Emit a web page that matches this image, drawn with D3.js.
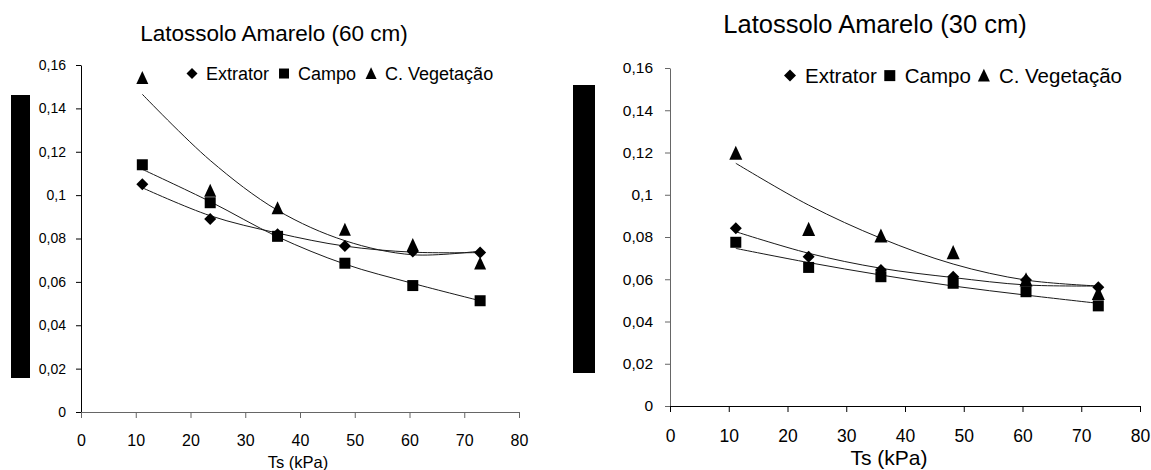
<!DOCTYPE html>
<html>
<head>
<meta charset="utf-8">
<script src="https://cdn.jsdelivr.net/npm/d3@7"></script>
<style>
  body { margin: 0; background: #fff; }
  svg { display: block; font-family: "Liberation Sans", Arial, sans-serif; }
</style>
</head>
<body>
<svg id="chart" width="1151" height="470"></svg>
<script>
// Ts (kPa) at which the samples were taken
var ts = [11.2, 23.6, 35.9, 48.2, 60.6, 72.9];

// Latossolo Amarelo (60 cm)
var ext60 = [0.105, 0.089, 0.082, 0.0765, 0.074, 0.0735];
var campo60 = [0.114, 0.0965, 0.081, 0.0686, 0.0583, 0.0513];
var veg60 = [0.154, 0.102, 0.094, 0.084, 0.077, 0.0685];
// trend lines at the same Ts
var trendExt60 = [0.1034, 0.0905, 0.0825, 0.0765, 0.0737, 0.0735];
var trendCampo60 = [0.1119, 0.097, 0.0808, 0.0682, 0.0593, 0.0513];
var trendVeg60 = [0.1465, 0.116, 0.093, 0.079, 0.0725, 0.0742];

// Latossolo Amarelo (30 cm)
var ext30 = [0.0841, 0.0707, 0.0644, 0.0612, 0.0596, 0.0562];
var campo30 = [0.0775, 0.0656, 0.0612, 0.0581, 0.0541, 0.0474];
var veg30 = [0.1196, 0.0836, 0.0805, 0.0726, 0.0597, 0.0533];
var trendExt30 = [0.0825, 0.0723, 0.0652, 0.0608, 0.0573, 0.0568];
var trendCampo30 = [0.0746, 0.0679, 0.062, 0.0568, 0.0525, 0.0486];
var trendVeg30 = [0.1149, 0.0951, 0.0794, 0.0672, 0.0596, 0.0568];

var seriesNames = ["Extrator", "Campo", "C. Vegetação"];
var seriesShapes = ["diamond", "square", "triangle"];
var xTicks = [0, 10, 20, 30, 40, 50, 60, 70, 80];
var yTicks = [0, 0.02, 0.04, 0.06, 0.08, 0.1, 0.12, 0.14, 0.16];
var yTickLabels = ["0", "0,02", "0,04", "0,06", "0,08", "0,1", "0,12", "0,14", "0,16"];

var svg = d3.select("#chart");
svg.append("rect").attr("width", 1151).attr("height", 470).attr("fill", "#fff");

function shape(type, s) {
  var h = s / 2;
  if (type == "diamond") return "M0," + (-h) + "L" + h + ",0L0," + h + "L" + (-h) + ",0Z";
  if (type == "square") return "M" + (-h) + "," + (-h) + "h" + s + "v" + s + "h" + (-s) + "Z";
  return "M0," + (-s * 0.58) + "L" + (s * 0.5) + "," + (s * 0.5) + "L" + (-s * 0.5) + "," + (s * 0.5) + "Z";
}

function panel(p) {
  var x = d3.scaleLinear().domain([0, 80]).range([p.left, p.right]);
  var y = d3.scaleLinear().domain([0, 0.16]).range([p.bottom, p.top]);
  var g = svg.append("g");

  // y-axis title box (rendered black in the original)
  g.append("rect")
    .attr("x", p.barX).attr("y", p.barTop)
    .attr("width", p.barW).attr("height", p.barBottom - p.barTop)
    .attr("fill", "#000");

  var yAxis = d3.axisLeft(y)
    .tickValues(yTicks)
    .tickFormat(function (d, i) { return yTickLabels[i]; })
    .tickSizeInner(5).tickSizeOuter(0).tickPadding(p.yPad);
  var gy = g.append("g").attr("transform", "translate(" + p.left + ",0)").call(yAxis);
  gy.selectAll("path,line").attr("stroke", p.yColor);
  gy.selectAll("text").attr("font-size", p.yFont).attr("fill", "#000")
    .attr("font-family", "'Liberation Sans', Arial, sans-serif");

  var xAxis = d3.axisBottom(x)
    .tickValues(xTicks)
    .tickFormat(d3.format("d"))
    .tickSizeInner(6).tickSizeOuter(6).tickPadding(p.xPad);
  var gx = g.append("g").attr("transform", "translate(0," + p.bottom + ")").call(xAxis);
  gx.selectAll("path,line").attr("stroke", p.xColor);
  gx.selectAll("text").attr("font-size", p.xFont).attr("fill", "#000")
    .attr("font-family", "'Liberation Sans', Arial, sans-serif");

  var line = d3.line()
    .x(function (d) { return x(d[0]); })
    .y(function (d) { return y(d[1]); })
    .curve(d3.curveCatmullRom.alpha(0.5));

  p.trends.forEach(function (t) {
    g.append("path")
      .datum(ts.map(function (v, i) { return [v, t[i]]; }))
      .attr("d", line)
      .attr("fill", "none")
      .attr("stroke", "#1a1a1a")
      .attr("stroke-width", 1);
  });

  // draw markers: triangles first, then squares, then diamonds on top
  [2, 1, 0].forEach(function (k) {
    g.selectAll(".m" + k)
      .data(ts.map(function (v, i) { return [v, p.values[k][i]]; }))
      .enter().append("path")
      .attr("class", "m" + k)
      .attr("transform", function (d) { return "translate(" + x(d[0]) + "," + y(d[1]) + ")"; })
      .attr("d", shape(seriesShapes[k], p.sizes[k]))
      .attr("fill", "#000");
  });

  // title
  g.append("text")
    .attr("x", p.titleX).attr("y", p.titleY)
    .attr("text-anchor", "middle")
    .attr("font-size", p.titleFont)
    .text(p.title);

  // legend, laid out left to right
  var lx = p.legX;
  seriesNames.forEach(function (name, k) {
    g.append("path")
      .attr("transform", "translate(" + lx + "," + (p.legY - p.legFont * 0.36) + ")")
      .attr("d", shape(seriesShapes[k], p.legSizes[k]))
      .attr("fill", "#000");
    var t = g.append("text")
      .attr("x", lx + p.legGap).attr("y", p.legY)
      .attr("font-size", p.legFont)
      .text(name);
    lx = lx + p.legGap + t.node().getComputedTextLength() + p.legAfter;
  });

  g.append("text")
    .attr("x", p.axisTitleX).attr("y", p.axisTitleY)
    .attr("text-anchor", "middle")
    .attr("font-size", p.axisTitleFont)
    .text("Ts (kPa)");
}

panel({
  left: 81, right: 519, top: 65, bottom: 412,
  barX: 11, barW: 19, barTop: 95, barBottom: 378,
  yColor: "#000", xColor: "#666", yFont: 14, xFont: 16, yPad: 10, xPad: 17,
  values: [ext60, campo60, veg60],
  trends: [trendExt60, trendCampo60, trendVeg60],
  sizes: [12, 11, 12],
  title: "Latossolo Amarelo (60 cm)", titleX: 274, titleY: 41, titleFont: 22.5,
  legX: 192, legY: 80, legFont: 18, legGap: 14, legAfter: 15, legSizes: [11, 10, 11],
  axisTitleX: 298, axisTitleY: 468, axisTitleFont: 16.5
});

panel({
  left: 670, right: 1140, top: 68, bottom: 406,
  barX: 573, barW: 22, barTop: 85, barBottom: 373,
  yColor: "#666", xColor: "#000", yFont: 15.5, xFont: 17.5, yPad: 12, xPad: 18,
  values: [ext30, campo30, veg30],
  trends: [trendExt30, trendCampo30, trendVeg30],
  sizes: [12, 11, 13],
  title: "Latossolo Amarelo (30 cm)", titleX: 875, titleY: 33, titleFont: 25.5,
  legX: 790, legY: 83, legFont: 20.5, legGap: 15, legAfter: 13, legSizes: [12, 11, 12],
  axisTitleX: 889, axisTitleY: 465, axisTitleFont: 21
});
</script>
</body>
</html>
